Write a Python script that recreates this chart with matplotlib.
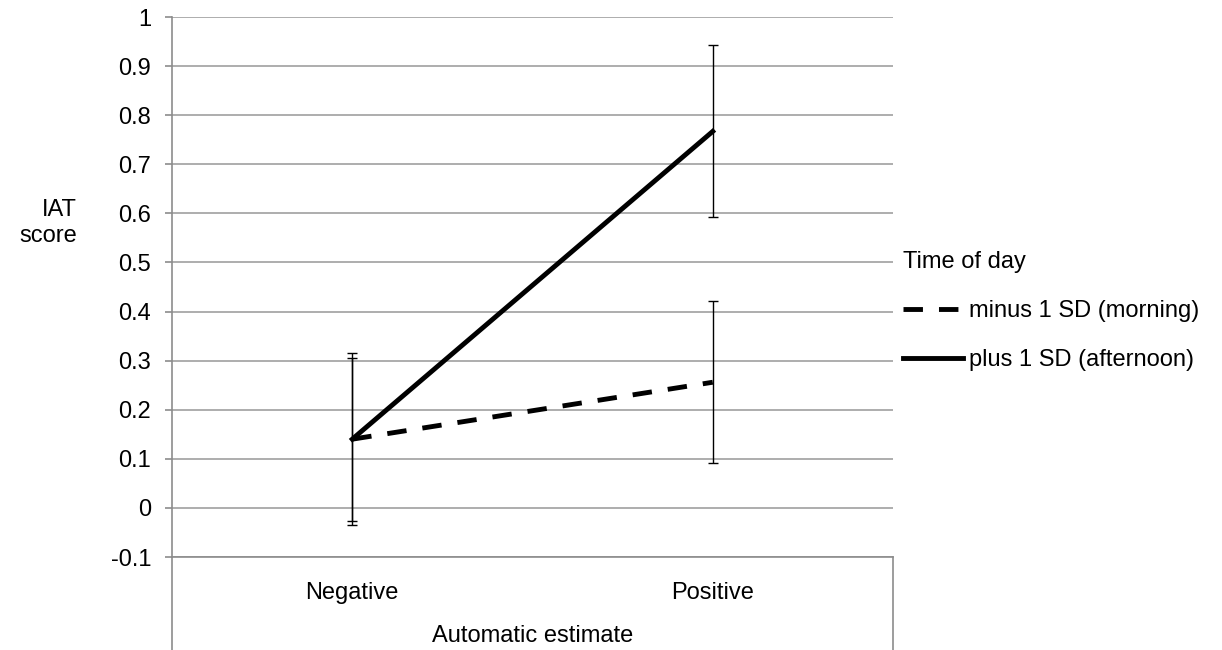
import matplotlib.pyplot as plt
import numpy as np

plt.rcParams['font.family'] = ['Liberation Sans', 'DejaVu Sans']

categories = ['Negative', 'Positive']
minus_sd = [0.140, 0.256]     # morning
plus_sd = [0.140, 0.767]      # afternoon
minus_err = [0.166, 0.165]
plus_err = [0.175, 0.175]
yticks = [-0.1, 0, 0.1, 0.2, 0.3, 0.4, 0.5, 0.6, 0.7, 0.8, 0.9, 1]
ytick_labels = ['-0.1', '0', '0.1', '0.2', '0.3', '0.4', '0.5', '0.6', '0.7', '0.8', '0.9', '1']

grey = '#8c8c8c'
fs = 17

fig = plt.figure(figsize=(12.22, 6.5), dpi=100)
ax = fig.add_axes([172 / 1222, 1 - 557 / 650, (893 - 172) / 1222, (557 - 17) / 650])

x = np.arange(len(categories))

ax.errorbar(x, minus_sd, yerr=minus_err, fmt='none', ecolor='black', elinewidth=1,
            capsize=3.7, capthick=1, zorder=3)
ax.errorbar(x, plus_sd, yerr=plus_err, fmt='none', ecolor='black', elinewidth=1,
            capsize=3.7, capthick=1, zorder=3)
ax.plot(x, minus_sd, color='black', lw=3.5, linestyle=(0, (4, 3.3)), label='minus 1 SD (morning)', zorder=4)
ax.plot(x, plus_sd, color='black', lw=3.5, linestyle='-', label='plus 1 SD (afternoon)', zorder=4)

ax.set_xlim(-0.5, 1.5)
ax.set_ylim(-0.1, 1)
ax.set_yticks(yticks)
ax.set_yticklabels(ytick_labels, fontsize=fs)
ax.set_xticks(x)
ax.set_xticklabels(categories, fontsize=fs)
ax.tick_params(axis='x', length=0, pad=18)
ax.tick_params(axis='y', length=5, color=grey, width=1.2, pad=10)
ax.yaxis.grid(True, color='#a0a0a0', lw=1.2)
ax.set_axisbelow(True)

for s in ['top', 'right']:
    ax.spines[s].set_visible(False)
ax.spines['left'].set_color(grey)
ax.spines['left'].set_linewidth(1.2)
ax.spines['bottom'].set_color(grey)
ax.spines['bottom'].set_linewidth(1.2)

# outer category box lines
ax.axvline(-0.5, ymin=-0.18, ymax=0, color=grey, lw=1.2, clip_on=False)
ax.axvline(1.5, ymin=-0.18, ymax=0, color=grey, lw=1.2, clip_on=False)

ax.set_xlabel('Automatic estimate', fontsize=fs, labelpad=15)
ax.set_ylabel('IAT\nscore', fontsize=fs, rotation=0, ha='right', va='center', multialignment='right')
ax.yaxis.set_label_coords(-0.132, 0.6185)

leg = ax.legend(title='Time of day', loc='center left', bbox_to_anchor=(1.0, 0.455),
                frameon=False, fontsize=fs, title_fontsize=fs, alignment='left',
                handlelength=2.55, handletextpad=0.25, labelspacing=1.15,
                borderaxespad=0, borderpad=0.42)

fig.savefig('out.png', dpi=100)
